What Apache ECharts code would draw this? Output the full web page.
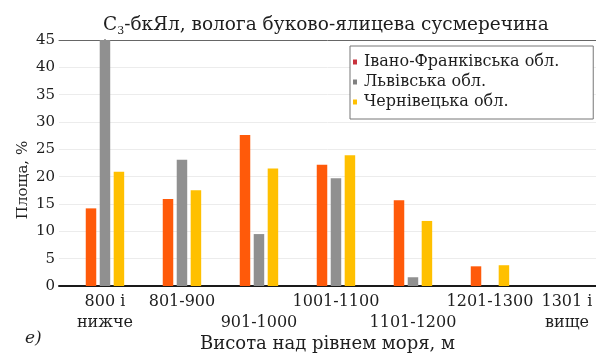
<!DOCTYPE html>
<html><head><meta charset="utf-8">
<script src="https://cdn.jsdelivr.net/npm/echarts@6/dist/echarts.min.js"></script>
<style>html,body{margin:0;padding:0;background:#fff}#c{width:596px;height:354px}</style>
</head><body><div id="c"></div>
<script>
const categories = ['800 і\nнижче', '801-900', '901-1000', '1001-1100', '1101-1200', '1201-1300', '1301 і\nвище'];
const seriesNames = ['Івано-Франківська обл.', 'Львівська обл.', 'Чернівецька обл.'];
const ivanoFrankivsk = [14.2, 15.9, 27.6, 22.2, 15.7, 3.6, 0];
const lviv = [46, 23.1, 9.5, 19.7, 1.6, 0, 0];
const chernivtsi = [20.9, 17.5, 21.5, 23.9, 11.9, 3.8, 0];
const yTicks = [0, 5, 10, 15, 20, 25, 30, 35, 40, 45];

const FONT = 'DejaVu Serif';
const TXT = '#1e1e1e';
const colors = ['#ff5a0a', '#909090', '#ffc000'];
const legendColors = ['#c8323c', '#808080', '#ffc000'];
const allSeries = [ivanoFrankivsk, lviv, chernivtsi];

const chart = echarts.init(document.getElementById('c'));
chart.setOption({
  animation: false,
  backgroundColor: '#fff',
  title: [{
    text: '{a|С}{s|3}{a|-бкЯл, волога буково-ялицева сусмеречина}',
    left: 98, top: 8,
    textStyle: { fontWeight: 'normal', rich: {
      a: { fontFamily: FONT, fontSize: 18.5, fontWeight: 'normal', color: TXT, lineHeight: 24 },
      s: { fontFamily: FONT, fontSize: 11, fontWeight: 'normal', color: TXT, verticalAlign: 'bottom' }
    } }
  }, {
    text: 'е)', left: 20, top: 325,
    textStyle: { fontFamily: FONT, fontSize: 17, fontStyle: 'italic', fontWeight: 'normal', color: TXT }
  }],
  legend: {
    orient: 'vertical', left: 350, top: 46,
    padding: [6, 34, 7, 3],
    backgroundColor: '#fff', borderColor: '#777', borderWidth: 1, borderRadius: 0,
    itemWidth: 4, itemHeight: 5, itemGap: 0,
    icon: 'rect',
    textStyle: { fontFamily: FONT, fontSize: 16, color: TXT, lineHeight: 20, padding: [0, 0, 0, 2] },
    data: seriesNames.map((n, i) => ({ name: n, itemStyle: { color: legendColors[i] } }))
  },
  grid: { left: 59, right: 0, top: 40, bottom: 68, containLabel: false, outerBoundsMode: 'none' },
  xAxis: [{
    type: 'value', min: -0.597, max: 6.377,
    axisLine: { show: true, lineStyle: { color: '#1a1a1a', width: 2 } },
    axisTick: { show: false },
    splitLine: { show: false },
    axisLabel: {
      customValues: categories.map((c, i) => i),
      formatter: v => { const i = Math.round(v); return (i === 2 || i === 4) ? '\n' + categories[i] : categories[i]; },
      fontFamily: FONT, fontSize: 16, color: TXT, lineHeight: 21, margin: 5
    },
    name: 'Висота над рівнем моря, м', nameLocation: 'middle', nameGap: 49, nameMoveOverlap: false,
    nameTextStyle: { fontFamily: FONT, fontSize: 18, color: TXT }
  }, {
    type: 'value', min: -0.597, max: 6.377, position: 'top',
    axisLine: { show: true, lineStyle: { color: '#666', width: 1 } },
    axisTick: { show: false }, axisLabel: { show: false }, splitLine: { show: false }
  }],
  yAxis: {
    type: 'value', min: yTicks[0], max: yTicks[yTicks.length - 1], interval: yTicks[1] - yTicks[0],
    axisLine: { show: true, lineStyle: { color: '#1a1a1a', width: 1.5 } },
    axisTick: { show: true, length: 3, lineStyle: { color: '#1a1a1a' } },
    splitLine: { show: true, lineStyle: { color: '#ececec', width: 1 } },
    axisLabel: { fontFamily: FONT, fontSize: 15, color: TXT, margin: 4 },
    name: 'Площа, %', nameLocation: 'middle', nameGap: 28, nameMoveOverlap: false,
    nameTextStyle: { fontFamily: FONT, fontSize: 15, color: TXT, padding: [0, 34, 0, 0] }
  },
  series: allSeries.map((arr, k) => ({
    type: 'bar', name: seriesNames[k],
    xAxisIndex: 0,
    barWidth: 10.5, barGap: '33%',
    clip: true,
    itemStyle: { color: colors[k] },
    data: arr.map((v, i) => [i, v])
  }))
});
</script></body></html>
